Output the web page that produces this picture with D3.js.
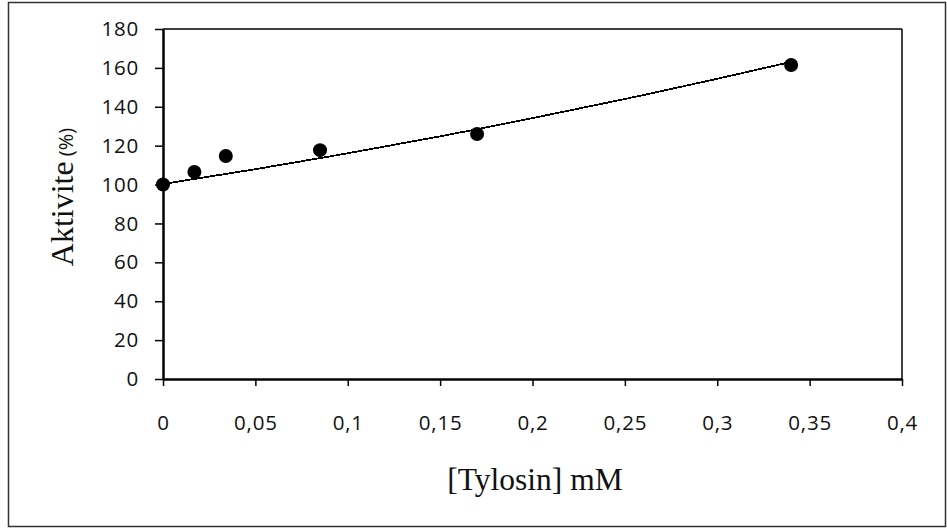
<!DOCTYPE html>
<html>
<head>
<meta charset="utf-8">
<script src="https://cdn.jsdelivr.net/npm/d3@7"></script>
<style>
  body { margin: 0; background: #fff; }
  svg { display: block; }
</style>
</head>
<body>
<div id="chart"></div>
<script>
// measured points
const concX = [0, 0.017, 0.034, 0.085, 0.17, 0.34];
const activity = [100, 106.5, 114.7, 117.7, 126, 161.5];

// trendline (slightly curved upward)
const trendX = [0, 0.05, 0.1, 0.15, 0.2, 0.25, 0.3, 0.34];
const trendY = [100.3, 107.9, 116.1, 124.8, 134.2, 144.0, 154.4, 163.1];

const xTicks = [0, 0.05, 0.1, 0.15, 0.2, 0.25, 0.3, 0.35, 0.4];
const yTicks = [0, 20, 40, 60, 80, 100, 120, 140, 160, 180];

const width = 947, height = 529;
const svg = d3.select("#chart").append("svg")
    .attr("width", width)
    .attr("height", height);

// outer frame
svg.append("rect")
    .attr("x", 8.5).attr("y", 2.5)
    .attr("width", 937).attr("height", 524)
    .attr("fill", "none")
    .attr("stroke", "#333")
    .attr("stroke-width", 1.5);

const x = d3.scaleLinear().domain([0, 0.4]).range([163, 902]);
const y = d3.scaleLinear().domain([0, 180]).range([379, 29]);

// top and right border of plot area
svg.append("line")
    .attr("x1", x(0)).attr("x2", x(0.4))
    .attr("y1", y(180)).attr("y2", y(180))
    .attr("stroke", "#000").attr("stroke-width", 1.5);
svg.append("line")
    .attr("x1", x(0.4)).attr("x2", x(0.4))
    .attr("y1", y(180)).attr("y2", y(0))
    .attr("stroke", "#000").attr("stroke-width", 1.5);

const yAxis = svg.append("g")
    .attr("transform", `translate(${x(0)},0)`)
    .call(d3.axisLeft(y).tickValues(yTicks).tickSize(8).tickSizeOuter(0).tickPadding(16));

const xAxis = svg.append("g")
    .attr("transform", `translate(0,${y(0)})`)
    .call(d3.axisBottom(x).tickValues(xTicks).tickSize(7).tickSizeOuter(0).tickPadding(29)
        .tickFormat(d => String(d).replace(".", ",")));

[yAxis, xAxis].forEach(g => {
    g.select(".domain").attr("stroke", "#000").attr("stroke-width", 2.5);
    g.selectAll(".tick line").attr("stroke", "#000").attr("stroke-width", 1.5);
    g.selectAll(".tick text")
        .attr("fill", "#111")
        .style("font-family", "'Open Sans', sans-serif")
        .style("font-size", "20.5px")
        .style("letter-spacing", "0.8px");
});

// trendline
const line = d3.line()
    .x((d, i) => x(trendX[i]))
    .y(d => y(d))
    .curve(d3.curveNatural);

svg.append("path")
    .datum(trendY)
    .attr("fill", "none")
    .attr("stroke", "#000")
    .attr("stroke-width", 1.8)
    .attr("shape-rendering", "crispEdges")
    .attr("d", line);

svg.selectAll(".pt")
    .data(activity)
    .enter().append("circle")
    .attr("class", "pt")
    .attr("cx", (d, i) => x(concX[i]))
    .attr("cy", d => y(d))
    .attr("r", 7)
    .attr("fill", "#000");

// axis titles
svg.append("text")
    .attr("x", 535).attr("y", 490)
    .attr("text-anchor", "middle")
    .style("font-family", "'Liberation Serif', 'Times New Roman', serif")
    .style("font-size", "31.5px")
    .attr("fill", "#111")
    .text("[Tylosin] mM");

const yt = svg.append("text")
    .attr("transform", "translate(73,197) rotate(-90)")
    .attr("text-anchor", "middle")
    .attr("fill", "#111");
yt.append("tspan")
    .style("font-family", "'Liberation Serif', 'Times New Roman', serif")
    .style("font-size", "32px")
    .text("Aktivite");
yt.append("tspan")
    .style("font-family", "'Open Sans', sans-serif")
    .style("font-size", "20px")
    .text(" (%)");
</script>
</body>
</html>
